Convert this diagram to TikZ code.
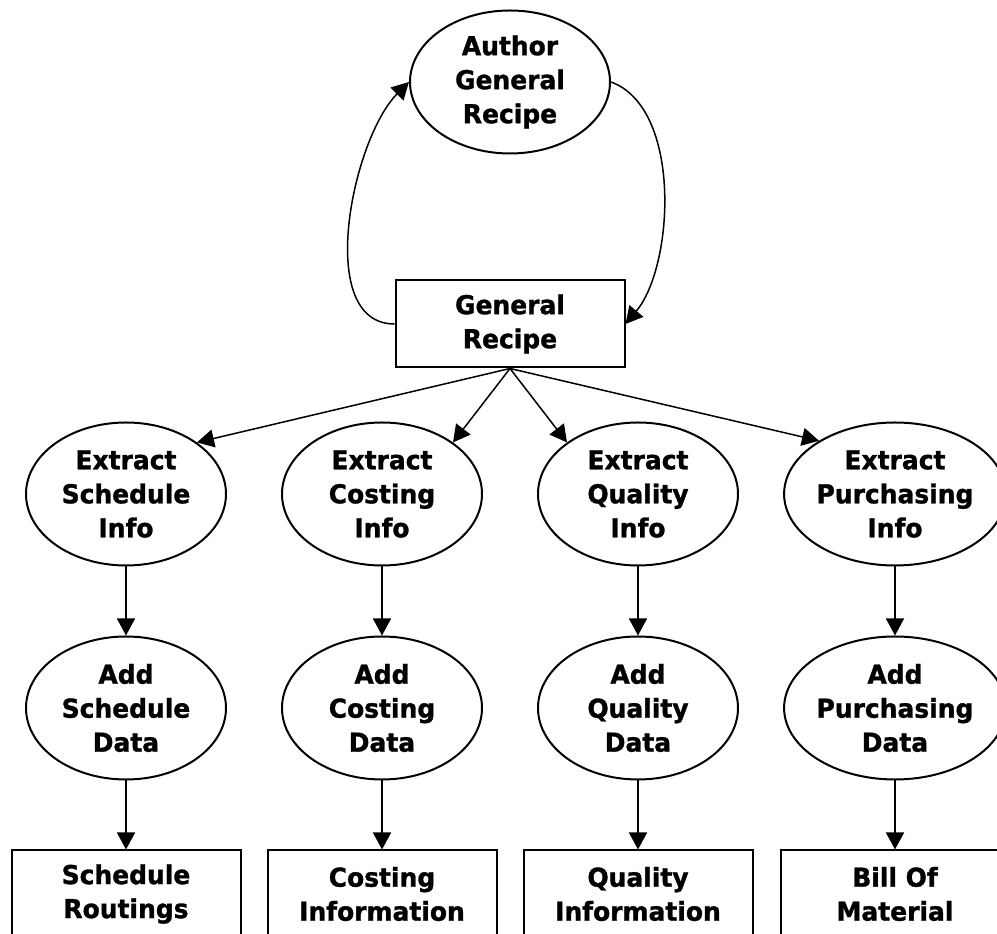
\documentclass[tikz,border=0pt]{standalone}
\usepackage{fontspec}
\setmainfont{DejaVu Sans}[BoldFeatures={FakeBold=1.2, FakeStretch=0.96}]
\usetikzlibrary{shapes.geometric, arrows.meta, positioning}

\begin{document}
\begin{tikzpicture}[
    x=1pt, y=1pt,
    every node/.style={font=\fontsize{26}{34}\selectfont\bfseries},
    box/.style={draw, rectangle, align=center, minimum height=87pt, minimum width=229pt, inner sep=0pt, line width=2pt},
    proc/.style={draw, ellipse, align=center, minimum height=143pt, minimum width=200pt, inner sep=0pt, line width=2pt},
    arrow/.style={-{Triangle[length=17pt, width=18pt]}, line width=1.5pt}
]
\useasboundingbox (0,0) rectangle (997,934);

% Nodos
\node (author) [proc] at (510,852) {Author\\General\\Recipe};
\node (recipe) [box] at (510,610) {General\\Recipe};

\node (exsched) [proc] at (126,440) {Extract\\Schedule\\Info};
\node (excost)  [proc] at (382,440) {Extract\\Costing\\Info};
\node (exqual)  [proc] at (638,440) {Extract\\Quality\\Info};
\node (expurch) [proc] at (895,440) {Extract\\Purchasing\\Info};

\node (addsched) [proc] at (126,226) {Add\\Schedule\\Data};
\node (addcost)  [proc] at (382,226) {Add\\Costing\\Data};
\node (addqual)  [proc] at (638,226) {Add\\Quality\\Data};
\node (addpurch) [proc] at (895,226) {Add\\Purchasing\\Data};

\node (routings) [box] at (126,40) {Schedule\\Routings};
\node (costinfo) [box] at (382,40) {Costing\\Information};
\node (qualinfo) [box] at (638,40) {Quality\\Information};
\node (bom)      [box] at (895,40) {Bill Of\\Material};

% Flechas
\draw [arrow] (recipe.west) to[out=180, in=225, looseness=0.85] (author.west);
\draw [arrow] (author.east) to[out=-20, in=50, looseness=0.8] (recipe.east);

\draw [arrow] (recipe.south) -- (exsched.36);
\draw [arrow] (recipe.south) -- (excost.36);
\draw [arrow] (recipe.south) -- (exqual.144);
\draw [arrow] (recipe.south) -- (expurch.145);

\draw [arrow] (exsched) -- (addsched);
\draw [arrow] (excost) -- (addcost);
\draw [arrow] (exqual) -- (addqual);
\draw [arrow] (expurch) -- (addpurch);

\draw [arrow] (addsched) -- (routings);
\draw [arrow] (addcost) -- (costinfo);
\draw [arrow] (addqual) -- (qualinfo);
\draw [arrow] (addpurch) -- (bom);

\end{tikzpicture}
\end{document}
